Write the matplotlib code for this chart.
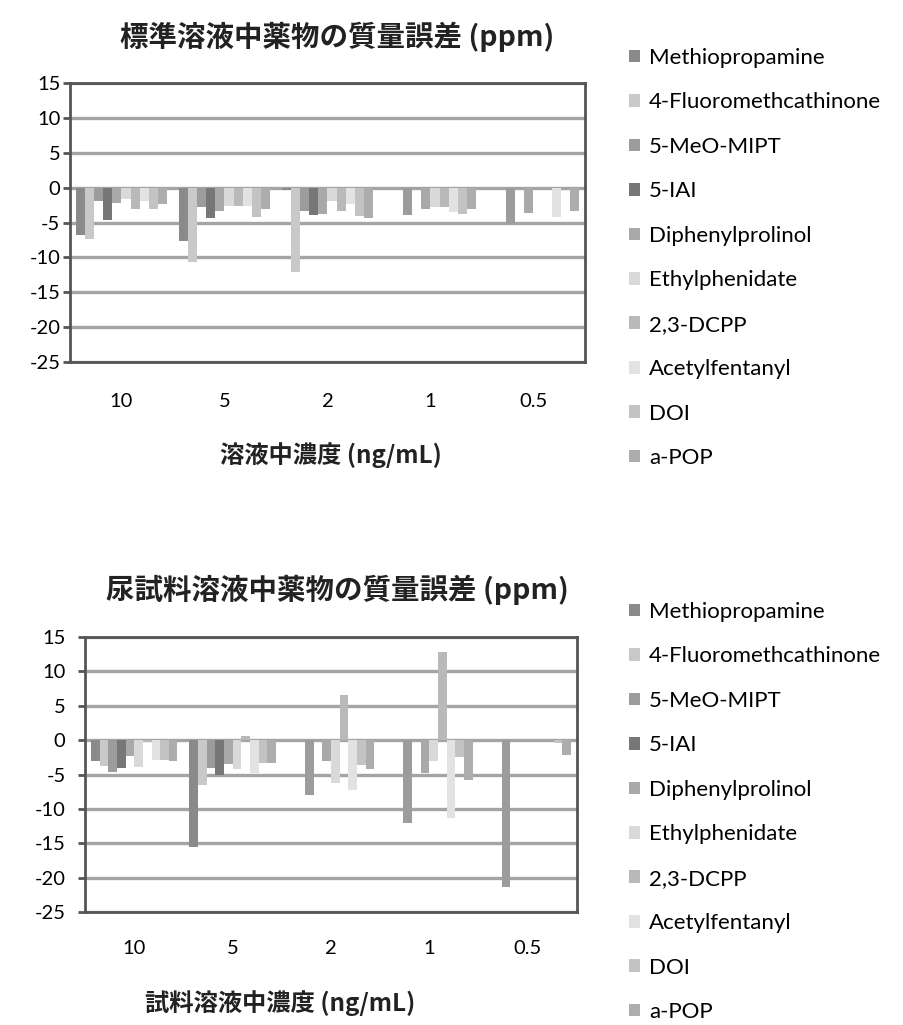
import numpy as np
import matplotlib.pyplot as plt

plt.rcParams['axes.unicode_minus'] = False

# series / categories
compounds = ['Methiopropamine', '4-Fluoromethcathinone', '5-MeO-MIPT', '5-IAI',
             'Diphenylprolinol', 'Ethylphenidate', '2,3-DCPP', 'Acetylfentanyl',
             'DOI', 'a-POP']
concentrations = ['10', '5', '2', '1', '0.5']

# mass error (ppm) in standard solution, one list per concentration (compound order)
std_10 = [-6.75, -7.4, -1.95, -4.6, -2.2, -1.6, -3.0, -1.85, -3.0, -2.4]
std_5 = [-7.7, -10.7, -2.8, -4.3, -3.3, -2.6, -2.7, -2.7, -4.2, -3.0]
std_2 = [-0.3, -12.1, -3.4, -3.9, -3.8, -1.9, -3.3, -2.4, -4.1, -4.3]
std_1 = [0, 0, -3.9, 0, -3.0, -2.8, -2.8, -3.5, -3.8, -3.0]
std_05 = [0, 0, -5.2, 0, -3.7, 0, 0, -4.2, 0, -3.4]

# mass error (ppm) in urine sample solution
uri_10 = [-3.0, -3.7, -4.7, -4.0, -2.3, -3.9, -0.3, -2.9, -2.9, -3.0]
uri_5 = [-15.5, -6.5, -4.1, -5.1, -3.5, -4.2, 0.6, -4.8, -3.3, -3.3]
uri_2 = [0, 0, -8.0, 0, -3.1, -6.2, 6.6, -7.2, -3.6, -4.2]
uri_1 = [0, 0, -12.0, 0, -4.8, -3.1, 12.8, -11.3, -2.5, -5.8]
uri_05 = [0, 0, -21.4, 0, 0, 0, 0, 0, -0.4, -2.2]

colors = ['#8a8a8a', '#c9c9c9', '#9c9c9c', '#777777', '#a9a9a9',
          '#d9d9d9', '#b9b9b9', '#e2e2e2', '#c3c3c3', '#adadad']

W, H = 904, 1025
cjk = ['Noto Sans CJK JP', 'DejaVu Sans']
latin = 'Lato'


def draw(ax, data, tick_len, tick_pad, xpad):
    x = np.arange(len(concentrations))
    w = 0.088
    for i, name in enumerate(compounds):
        ax.bar(x - 0.44 + w * (i + 0.5), data[:, i], w, color=colors[i],
               label=name, zorder=3, linewidth=0)
    ax.set_xlim(-0.5, len(concentrations) - 0.5)
    ax.set_ylim(-25, 15)
    ax.set_yticks(range(-25, 16, 5))
    ax.set_xticks(x)
    ax.set_xticklabels(concentrations)
    ax.yaxis.grid(True, color='#a4a4a4', linewidth=2.4, zorder=0)
    ax.set_axisbelow(True)
    for s in ax.spines.values():
        s.set_color('#555555')
        s.set_linewidth(2)
    ax.tick_params(axis='x', length=0, pad=xpad, labelsize=14.5)
    ax.tick_params(axis='y', length=tick_len, width=2, color='#555555',
                   pad=tick_pad, labelsize=14.5)
    for lab in ax.get_xticklabels() + ax.get_yticklabels():
        lab.set_fontfamily(latin)


fig = plt.figure(figsize=(W / 100, H / 100), dpi=100)

ax1 = fig.add_axes([70 / W, 1 - 362 / H, 515 / W, 279 / H])
draw(ax1, np.array([std_10, std_5, std_2, std_1, std_05]), 5, 2, 22)

ax2 = fig.add_axes([85 / W, 1 - 912 / H, 492 / W, 275 / H])
draw(ax2, np.array([uri_10, uri_5, uri_2, uri_1, uri_05]), 5, 9, 20)

# titles and axis labels
fig.text(337 / W, 1 - 37 / H, '標準溶液中薬物の質量誤差 (ppm)', ha='center', va='center',
         family=cjk, fontsize=20.5, fontweight='bold', color='#222222')
fig.text(331 / W, 1 - 455 / H, '溶液中濃度 (ng/mL)', ha='center', va='center',
         family=cjk, fontsize=17.5, fontweight='bold', color='#222222')
fig.text(337 / W, 1 - 590 / H, '尿試料溶液中薬物の質量誤差 (ppm)', ha='center', va='center',
         family=cjk, fontsize=20.5, fontweight='bold', color='#222222')
fig.text(280 / W, 1 - 1003 / H, '試料溶液中濃度 (ng/mL)', ha='center', va='center',
         family=cjk, fontsize=17.5, fontweight='bold', color='#222222')

# legends
for ax, top in [(ax1, 48), (ax2, 602)]:
    handles, labels = ax.get_legend_handles_labels()
    fig.legend(handles, labels, loc='upper left',
               bbox_to_anchor=(629 / W, 1 - top / H), bbox_transform=fig.transFigure,
               frameon=False, borderpad=0, borderaxespad=0,
               handlelength=0.5, handleheight=0.5, handletextpad=0.4,
               labelspacing=1.1, prop={'family': latin, 'size': 16})

fig.savefig('out.png', dpi=100)
